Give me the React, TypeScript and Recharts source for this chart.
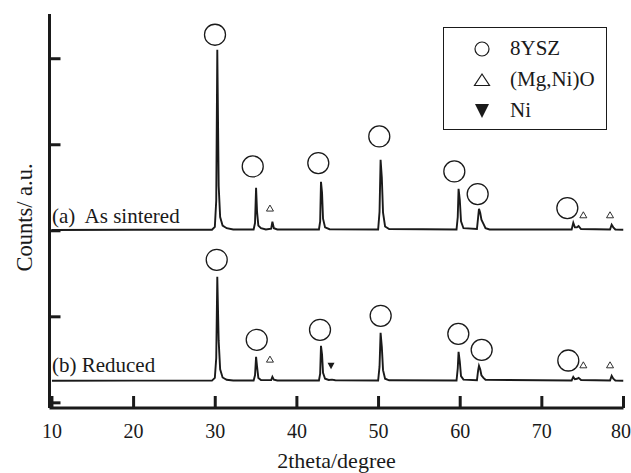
/** XRD patterns of the anode, as sintered (a) and after reduction (b).
 * Patterns are offset vertically; phase markers sit above each reflection. */

import {
  ComposedChart,
  Label,
  Legend,
  Line,
  ReferenceDot,
  Scatter,
  XAxis,
  YAxis,
} from "recharts";

const SERIF = '"Liberation Serif", "Times New Roman", serif';
const INK = "#1a1a1a";

const xTicks = [10, 20, 30, 40, 50, 60, 70, 80];
const yTicks = [0, 1000, 2000, 3000, 4000];

// (a) as sintered, offset by ~2000 counts
const sinteredScan = [
  { x: 10, y: 2010 }, { x: 20, y: 2012 }, { x: 29.6, y: 2012 }, { x: 29.95, y: 2045 },
  { x: 30.12, y: 2350 }, { x: 30.25, y: 4105 }, { x: 30.42, y: 2520 }, { x: 30.6, y: 2160 },
  { x: 30.9, y: 2060 }, { x: 31.4, y: 2030 }, { x: 32.2, y: 2015 }, { x: 34.7, y: 2015 },
  { x: 34.87, y: 2090 }, { x: 35.0, y: 2500 }, { x: 35.12, y: 2220 }, { x: 35.28, y: 2060 },
  { x: 35.6, y: 2030 }, { x: 36.2, y: 2015 }, { x: 36.85, y: 2025 }, { x: 37.0, y: 2105 },
  { x: 37.18, y: 2030 }, { x: 37.6, y: 2015 }, { x: 42.7, y: 2015 }, { x: 42.85, y: 2110 },
  { x: 42.95, y: 2570 }, { x: 43.08, y: 2440 }, { x: 43.2, y: 2140 }, { x: 43.45, y: 2040 },
  { x: 44.0, y: 2018 }, { x: 49.95, y: 2015 }, { x: 50.12, y: 2220 }, { x: 50.25, y: 2826 },
  { x: 50.4, y: 2620 }, { x: 50.55, y: 2210 }, { x: 50.8, y: 2050 }, { x: 51.3, y: 2020 },
  { x: 59.55, y: 2015 }, { x: 59.7, y: 2160 }, { x: 59.8, y: 2488 }, { x: 59.95, y: 2360 },
  { x: 60.1, y: 2110 }, { x: 60.4, y: 2030 }, { x: 62.05, y: 2020 }, { x: 62.2, y: 2160 },
  { x: 62.3, y: 2256 }, { x: 62.45, y: 2210 }, { x: 62.6, y: 2130 }, { x: 62.85, y: 2080 },
  { x: 63.1, y: 2030 }, { x: 63.6, y: 2015 }, { x: 73.65, y: 2015 }, { x: 73.85, y: 2093 },
  { x: 74.05, y: 2040 }, { x: 74.3, y: 2040 }, { x: 74.5, y: 2055 }, { x: 74.8, y: 2020 },
  { x: 78.35, y: 2015 }, { x: 78.55, y: 2070 }, { x: 78.75, y: 2040 }, { x: 79.0, y: 2015 },
  { x: 80, y: 2012 },
];

// (b) reduced, offset by ~250 counts
const reducedScan = [
  { x: 10, y: 256 }, { x: 20, y: 258 }, { x: 29.6, y: 258 }, { x: 29.95, y: 290 },
  { x: 30.12, y: 520 }, { x: 30.25, y: 1465 }, { x: 30.42, y: 720 }, { x: 30.6, y: 390 },
  { x: 30.9, y: 295 }, { x: 31.4, y: 268 }, { x: 32.2, y: 260 }, { x: 34.7, y: 260 },
  { x: 34.87, y: 320 }, { x: 35.0, y: 535 }, { x: 35.12, y: 420 }, { x: 35.28, y: 290 },
  { x: 35.6, y: 266 }, { x: 36.85, y: 264 }, { x: 37.0, y: 302 }, { x: 37.18, y: 270 },
  { x: 37.6, y: 260 }, { x: 42.7, y: 260 }, { x: 42.85, y: 340 }, { x: 42.95, y: 663 },
  { x: 43.08, y: 560 }, { x: 43.2, y: 350 }, { x: 43.45, y: 280 }, { x: 43.9, y: 266 },
  { x: 44.3, y: 270 }, { x: 44.7, y: 262 }, { x: 49.95, y: 260 }, { x: 50.12, y: 420 },
  { x: 50.25, y: 814 }, { x: 50.4, y: 650 }, { x: 50.55, y: 380 }, { x: 50.8, y: 280 },
  { x: 51.3, y: 262 }, { x: 59.55, y: 260 }, { x: 59.7, y: 400 }, { x: 59.8, y: 593 },
  { x: 59.95, y: 480 }, { x: 60.1, y: 310 }, { x: 60.4, y: 270 }, { x: 62.05, y: 262 },
  { x: 62.2, y: 380 }, { x: 62.3, y: 430 }, { x: 62.45, y: 390 }, { x: 62.6, y: 320 },
  { x: 62.85, y: 290 }, { x: 63.1, y: 268 }, { x: 73.65, y: 260 }, { x: 73.85, y: 302 },
  { x: 74.05, y: 275 }, { x: 74.3, y: 280 }, { x: 74.5, y: 290 }, { x: 74.8, y: 265 },
  { x: 78.35, y: 260 }, { x: 78.55, y: 314 }, { x: 78.75, y: 280 }, { x: 79.0, y: 260 },
  { x: 80, y: 256 },
];

// phase markers
const sinteredYsz = [
  { x: 29.97, y: 4279 }, { x: 34.59, y: 2748 }, { x: 42.62, y: 2787 }, { x: 50.09, y: 3097 },
  { x: 59.28, y: 2690 }, { x: 62.14, y: 2427 }, { x: 73.12, y: 2264 },
];
const sinteredMgNiO = [{ x: 36.7, y: 2264 }, { x: 75.08, y: 2186 }, { x: 78.35, y: 2186 }];
const reducedYsz = [
  { x: 30.18, y: 1663 }, { x: 35.08, y: 733 }, { x: 42.83, y: 849 }, { x: 50.26, y: 1012 },
  { x: 59.77, y: 802 }, { x: 62.63, y: 616 }, { x: 73.24, y: 492 },
];
const reducedMgNiO = [{ x: 36.7, y: 508 }, { x: 75.08, y: 442 }, { x: 78.35, y: 442 }];
const reducedNi = [{ x: 44.18, y: 430 }];

const legendNames = ["8YSZ", "(Mg,Ni)O", "Ni"];

const annotations = [
  { x: 10.0, y: 2093, text: "(a)  As sintered" },
  { x: 10.0, y: 364, text: "(b) Reduced" },
];

function OpenCircle({ cx, cy }: any) {
  return <circle cx={cx} cy={cy} r={10.5} fill="none" stroke={INK} strokeWidth={1.3} />;
}

function SmallTriangle({ cx, cy }: any) {
  return (
    <path
      d={`M${cx},${cy - 3} L${cx + 3.5},${cy + 3} L${cx - 3.5},${cy + 3} Z`}
      fill="none"
      stroke={INK}
      strokeWidth={0.9}
    />
  );
}

function DownTriangle({ cx, cy }: any) {
  return <path d={`M${cx - 3.5},${cy - 3} L${cx + 3.5},${cy - 3} L${cx},${cy + 3.5} Z`} fill={INK} />;
}

function LegendIcon({ index }: { index: number }) {
  if (index === 0) return <circle cx={38} cy={16} r={7} fill="none" stroke={INK} strokeWidth={1.2} />;
  if (index === 1) return <path d="M38,10 L45.5,21.5 L30.5,21.5 Z" fill="none" stroke={INK} strokeWidth={1.2} />;
  return <path d="M31,9 L45,9 L38,23 Z" fill={INK} />;
}

function PhaseLegend() {
  return (
    <div
      style={{
        width: 164,
        height: 103,
        boxSizing: "border-box",
        border: `1px solid ${INK}`,
        background: "#fff",
        fontFamily: SERIF,
        fontSize: 21,
        color: INK,
        paddingTop: 5,
      }}
    >
      {legendNames.map((name, i) => (
        <div key={name} style={{ display: "flex", alignItems: "center", height: 31 }}>
          <svg width={66} height={31} style={{ flex: "none" }}>
            <LegendIcon index={i} />
          </svg>
          <span>{name}</span>
        </div>
      ))}
    </div>
  );
}

function YTitle({ viewBox }: any) {
  const vb = viewBox ?? { x: 0, y: 14, width: 49.5, height: 394 };
  const cx = vb.x + 31.5;
  const cy = vb.y + vb.height / 2 + 6.5;
  return (
    <text
      x={cx}
      y={cy}
      transform={`rotate(-90 ${cx} ${cy})`}
      textAnchor="middle"
      fontFamily={SERIF}
      fontSize={22.5}
      fill={INK}
    >
      Counts/ a.u.
    </text>
  );
}

function annotationShape(text: string) {
  return ({ cx, cy }: any) => (
    <text x={cx} y={cy} fontFamily={SERIF} fontSize={21} fill={INK} style={{ whiteSpace: "pre" }}>
      {text}
    </text>
  );
}

const axisLine = { stroke: INK, strokeWidth: 3 };

export default function App() {
  return (
    <div style={{ position: "absolute", left: 0, top: 0, background: "#fff" }}>
      <ComposedChart width={631} height={473} margin={{ top: 14, right: 7.5, bottom: 0, left: 0 }}>
        <XAxis
          dataKey="x"
          type="number"
          domain={[9.7, 80]}
          ticks={xTicks}
          allowDataOverflow
          height={65}
          axisLine={axisLine}
          tickLine={{ stroke: INK, strokeWidth: 3 }}
          tickSize={-12}
          tickMargin={28}
          tick={{ fill: INK, fontSize: 20, fontFamily: SERIF }}
        >
          <Label
            value="2theta/degree"
            position="insideBottom"
            offset={5.5}
            style={{ fontSize: 22, fontFamily: SERIF, fill: INK }}
          />
        </XAxis>
        <XAxis xAxisId="top" orientation="top" type="number" domain={[9.7, 80]} height={0} tick={false} tickLine={false} axisLine={axisLine} />
        <YAxis
          type="number"
          domain={[-60, 4520]}
          ticks={yTicks}
          allowDataOverflow
          width={49.5}
          axisLine={axisLine}
          tickLine={{ stroke: INK, strokeWidth: 3 }}
          tickSize={-11}
          tickFormatter={() => ""}
        >
          <Label content={<YTitle />} />
        </YAxis>
        <YAxis yAxisId="right" orientation="right" domain={[0, 1]} width={0} tick={false} tickLine={false} axisLine={axisLine} />

        <Line data={sinteredScan} dataKey="y" type="linear" stroke={INK} strokeWidth={1.9} dot={false} isAnimationActive={false} />
        <Line data={reducedScan} dataKey="y" type="linear" stroke={INK} strokeWidth={1.9} dot={false} isAnimationActive={false} />

        <Scatter data={sinteredYsz} dataKey="y" shape={OpenCircle} isAnimationActive={false} />
        <Scatter data={sinteredMgNiO} dataKey="y" shape={SmallTriangle} isAnimationActive={false} />
        <Scatter data={reducedYsz} dataKey="y" shape={OpenCircle} isAnimationActive={false} />
        <Scatter data={reducedMgNiO} dataKey="y" shape={SmallTriangle} isAnimationActive={false} />
        <Scatter data={reducedNi} dataKey="y" shape={DownTriangle} isAnimationActive={false} />

        {annotations.map((a) => (
          <ReferenceDot key={a.text} x={a.x} y={a.y} r={1} shape={annotationShape(a.text)} />
        ))}

        <Legend
          layout="vertical"
          align="center"
          verticalAlign="middle"
          content={<PhaseLegend />}
          wrapperStyle={{ top: 27, left: 443, width: 164, height: 103 }}
        />
      </ComposedChart>
    </div>
  );
}
